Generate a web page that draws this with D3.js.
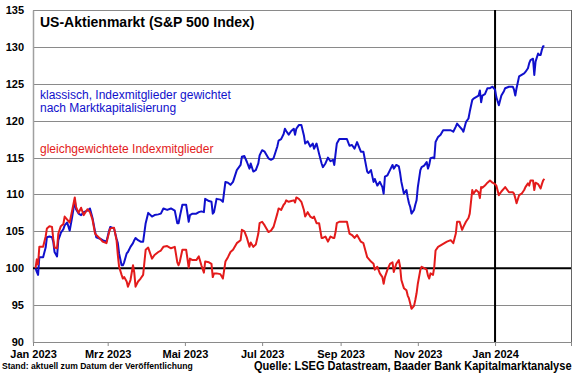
<!DOCTYPE html>
<html>
<head>
<meta charset="utf-8">
<script src="https://cdn.jsdelivr.net/npm/d3@7"></script>
<style>
  body { margin: 0; background: #fff; }
  svg { display: block; font-family: Arial, "Liberation Sans", sans-serif; }
</style>
</head>
<body>
<div id="chart"></div>
<script>
// S&P 500 (market-cap weighted) vs. equal weighted, indexed to 100 at start of 2023
const dates = [
  "2023-01-03","2023-01-04","2023-01-05","2023-01-06","2023-01-09","2023-01-11","2023-01-12","2023-01-14","2023-01-16","2023-01-17","2023-01-18","2023-01-20","2023-01-21","2023-01-23","2023-01-25","2023-01-26","2023-01-28","2023-01-30",
  "2023-02-01","2023-02-03","2023-02-04","2023-02-06","2023-02-08","2023-02-10","2023-02-13","2023-02-15","2023-02-17","2023-02-19","2023-02-20","2023-02-23","2023-02-25","2023-02-28",
  "2023-03-02","2023-03-03","2023-03-06","2023-03-08","2023-03-09","2023-03-10","2023-03-12","2023-03-13","2023-03-14","2023-03-16","2023-03-17","2023-03-19","2023-03-21","2023-03-22","2023-03-23","2023-03-25","2023-03-27","2023-03-29","2023-03-31",
  "2023-04-02","2023-04-05","2023-04-07","2023-04-10","2023-04-12","2023-04-14","2023-04-17","2023-04-20","2023-04-23","2023-04-25","2023-04-26","2023-04-27","2023-04-29",
  "2023-05-02","2023-05-04","2023-05-05","2023-05-07","2023-05-10","2023-05-12","2023-05-14","2023-05-16","2023-05-17","2023-05-20","2023-05-22","2023-05-23","2023-05-24","2023-05-26","2023-05-29","2023-05-31",
  "2023-06-02","2023-06-04","2023-06-06","2023-06-08","2023-06-11","2023-06-14","2023-06-15","2023-06-17","2023-06-19","2023-06-21","2023-06-22","2023-06-24","2023-06-26","2023-06-28","2023-06-29",
  "2023-07-01","2023-07-03","2023-07-06","2023-07-08","2023-07-10","2023-07-13","2023-07-14","2023-07-16","2023-07-18","2023-07-19","2023-07-20","2023-07-22","2023-07-24","2023-07-26","2023-07-27","2023-07-28","2023-07-30",
  "2023-08-01","2023-08-03","2023-08-04","2023-08-06","2023-08-08","2023-08-10","2023-08-11","2023-08-13","2023-08-15","2023-08-17","2023-08-18","2023-08-20","2023-08-22","2023-08-24","2023-08-26","2023-08-27","2023-08-28","2023-08-29","2023-08-31",
  "2023-09-03","2023-09-06","2023-09-08","2023-09-10","2023-09-12","2023-09-14","2023-09-17","2023-09-19","2023-09-22","2023-09-23","2023-09-25","2023-09-27","2023-09-28","2023-09-30",
  "2023-10-02","2023-10-04","2023-10-05","2023-10-06","2023-10-08","2023-10-10","2023-10-12","2023-10-13","2023-10-15","2023-10-17","2023-10-18","2023-10-19","2023-10-21","2023-10-23","2023-10-24","2023-10-25","2023-10-26","2023-10-27","2023-10-29","2023-10-30","2023-10-31",
  "2023-11-01","2023-11-03","2023-11-04","2023-11-06","2023-11-08","2023-11-09","2023-11-10","2023-11-11","2023-11-13","2023-11-14","2023-11-15","2023-11-17","2023-11-19","2023-11-21","2023-11-24","2023-11-27","2023-11-29",
  "2023-12-01","2023-12-02","2023-12-04","2023-12-06","2023-12-07","2023-12-09","2023-12-11","2023-12-12","2023-12-14","2023-12-15","2023-12-17","2023-12-19","2023-12-20","2023-12-21","2023-12-22","2023-12-24","2023-12-26","2023-12-28","2023-12-30",
  "2024-01-01","2024-01-02","2024-01-04","2024-01-06","2024-01-08","2024-01-09","2024-01-12","2024-01-15","2024-01-16","2024-01-17","2024-01-18","2024-01-20","2024-01-22","2024-01-24","2024-01-25","2024-01-27","2024-01-28","2024-01-29","2024-01-31",
  "2024-02-01","2024-02-02","2024-02-04","2024-02-05","2024-02-06","2024-02-07","2024-02-08","2024-02-09"
];

const capWeighted = [
  100.0,99.5,99.1,101.5,101.5,102.8,104.2,104.3,104.2,103.6,102.2,101.6,103.8,104.8,105.3,105.8,106.2,105.1,
  107.0,109.2,108.0,107.4,107.2,107.6,107.8,108.1,106.8,105.0,104.2,104.0,103.8,103.6,
  105.0,105.6,105.4,104.0,103.4,102.0,100.4,100.4,100.8,102.0,102.2,102.9,103.4,103.8,104.1,103.8,103.6,103.6,106.1,
  107.5,107.0,107.2,107.3,107.4,108.1,107.9,108.1,107.8,106.1,106.1,107.0,108.6,
  108.6,106.3,107.2,107.4,107.4,107.6,107.7,107.6,109.4,109.1,109.0,107.4,107.6,109.4,109.3,109.0,
  111.7,111.6,111.3,111.7,113.3,114.0,115.1,115.2,114.4,113.5,114.2,113.1,113.3,114.2,115.3,
  116.0,115.8,114.9,114.7,114.9,116.5,117.3,117.5,118.2,118.9,118.6,118.1,118.6,118.9,118.1,118.9,119.4,
  119.4,118.0,116.9,117.2,116.5,116.9,116.2,116.9,115.5,114.2,113.7,114.2,115.0,114.5,114.7,114.0,115.5,116.9,117.5,
  117.5,117.5,116.6,116.7,116.2,117.1,115.8,115.8,113.1,112.9,113.3,111.7,112.1,111.2,
  111.7,111.0,110.1,112.4,112.6,113.3,114.0,113.5,114.0,113.8,112.9,111.7,110.1,110.6,109.6,108.8,108.3,107.4,107.9,108.6,109.2,
  111.0,113.3,113.7,113.9,114.4,113.5,114.0,114.9,115.0,114.9,117.1,117.8,118.1,118.7,118.7,118.7,118.5,
  119.2,119.6,119.2,118.8,118.5,119.8,120.3,121.2,122.8,123.0,123.2,123.4,124.1,122.5,123.4,123.6,124.4,124.4,124.6,
  124.2,123.2,122.1,123.4,124.0,124.4,124.6,124.6,124.2,123.4,124.4,126.0,126.2,126.4,126.6,127.1,127.8,128.2,128.4,
  126.2,128.0,129.1,128.9,128.9,129.6,130.1,130.1
];

const equalWeighted = [
  100.0,101.2,100.5,102.9,102.9,104.3,105.4,105.7,105.6,104.0,102.8,102.7,104.7,105.7,106.0,107.0,106.6,106.2,
  107.9,109.6,108.3,107.5,108.2,107.2,108.0,107.6,106.6,104.7,104.5,104.0,103.6,103.4,
  104.8,105.4,105.5,103.8,101.8,100.2,99.1,98.6,98.8,98.2,97.5,98.4,100.4,99.4,97.5,98.2,98.6,99.1,102.5,
  102.8,101.3,101.8,102.2,102.4,102.9,103.0,102.7,102.9,100.8,100.4,100.9,102.5,
  102.5,100.1,101.3,101.1,101.1,101.6,100.4,99.4,100.9,100.8,100.6,98.8,99.3,99.3,99.2,98.6,
  100.9,101.5,102.2,102.5,103.4,103.8,105.2,105.0,104.1,102.9,103.5,102.9,103.2,104.7,106.1,
  106.3,105.8,104.9,105.1,105.6,107.4,108.1,107.9,108.6,108.8,109.2,109.0,109.1,109.2,108.9,109.6,109.4,
  109.0,107.9,107.0,107.6,107.0,106.8,107.0,106.1,106.1,104.1,104.1,104.3,103.6,104.3,104.1,104.1,104.9,106.1,106.3,
  106.3,106.3,104.7,104.5,104.1,104.5,103.6,103.4,101.5,101.3,100.9,100.6,99.8,100.2,
  99.3,98.8,97.9,98.8,99.8,100.6,100.8,99.5,100.6,101.1,100.2,98.4,97.3,97.0,96.3,95.9,95.2,94.5,94.9,95.7,96.6,
  97.9,99.8,100.2,100.0,99.8,99.0,98.6,99.3,99.1,100.2,102.4,102.9,103.1,103.3,103.6,103.8,103.4,
  104.7,106.3,106.3,105.2,105.6,106.3,106.8,107.4,110.6,110.1,110.6,110.3,109.5,111.0,110.9,111.2,111.6,111.9,111.6,
  111.4,111.2,109.9,110.4,110.8,111.0,110.3,110.3,110.1,109.5,108.8,109.9,110.1,110.6,111.0,111.5,111.2,111.9,111.9,
  110.6,111.6,111.4,111.1,110.8,111.4,111.9,112.1
];

const yTicks = [90, 95, 100, 105, 110, 115, 120, 125, 130, 135];
const xTickDates = ["2023-01-01","2023-03-01","2023-05-01","2023-07-01","2023-09-01","2023-11-01","2024-01-01","2024-03-01"];
const xTickLabels = ["Jan 2023","Mrz 2023","Mai 2023","Jul 2023","Sep 2023","Nov 2023","Jan 2024",""];

const width = 580;
const height = 375;
const marginTop = 10;
const marginRight = 9;
const marginBottom = 33;
const marginLeft = 33;

const parse = d3.utcParse("%Y-%m-%d");
const blueColor = "#1010cc";
const redColor = "#e31b1b";

const x = d3.scaleUtc()
  .domain([parse("2023-01-01"), parse("2024-03-01")])
  .range([marginLeft, width - marginRight]);

const y = d3.scaleLinear()
  .domain([90, 135])
  .range([height - marginBottom, marginTop]);

const svg = d3.create("svg")
  .attr("width", width)
  .attr("height", height)
  .attr("viewBox", [0, 0, width, height]);

document.getElementById("chart").appendChild(svg.node());

svg.append("rect").attr("width", width).attr("height", height).attr("fill", "#fff");

// horizontal grid
svg.append("g")
  .attr("stroke", "#8a8a8a")
  .attr("stroke-width", 1)
  .selectAll("line")
  .data(yTicks)
  .join("line")
    .attr("x1", marginLeft)
    .attr("x2", width - marginRight)
    .attr("y1", d => Math.round(y(d)) + 0.5)
    .attr("y2", d => Math.round(y(d)) + 0.5);

// right border
svg.append("line")
  .attr("x1", width - marginRight + 0.5).attr("x2", width - marginRight + 0.5)
  .attr("y1", marginTop).attr("y2", height - marginBottom)
  .attr("stroke", "#666");

// y axis
const yAxis = svg.append("g")
  .attr("transform", `translate(${marginLeft},0)`)
  .call(d3.axisLeft(y).tickValues(yTicks).tickSize(0).tickPadding(9));
yAxis.select(".domain").attr("stroke", "#a0a0a0").attr("stroke-width", 1.5);
yAxis.selectAll("text")
  .attr("font-family", "Arial, 'Liberation Sans', sans-serif")
  .attr("font-size", 11)
  .attr("font-weight", "bold")
  .attr("fill", "#000");

// x axis
const xAxis = svg.append("g")
  .attr("transform", `translate(0,${height - marginBottom})`)
  .call(d3.axisBottom(x)
    .tickValues(xTickDates.map(parse))
    .tickFormat((d, i) => xTickLabels[i])
    .tickSize(4)
    .tickSizeOuter(0)
    .tickPadding(4));
xAxis.select(".domain").attr("stroke", "#8a8a8a");
xAxis.selectAll(".tick line").attr("stroke", "#8a8a8a");
xAxis.selectAll("text")
  .attr("font-family", "Arial, 'Liberation Sans', sans-serif")
  .attr("font-size", 11)
  .attr("font-weight", "bold")
  .attr("fill", "#000");

// reference lines: 100 and start of 2024
svg.append("line")
  .attr("x1", marginLeft).attr("x2", width - marginRight)
  .attr("y1", y(100)).attr("y2", y(100))
  .attr("stroke", "#000").attr("stroke-width", 2);

svg.append("line")
  .attr("x1", x(parse("2024-01-01"))).attr("x2", x(parse("2024-01-01")))
  .attr("y1", marginTop).attr("y2", height - marginBottom)
  .attr("stroke", "#000").attr("stroke-width", 2);

// series
const line = d3.line()
  .x((d, i) => x(parse(dates[i])))
  .y(d => y(d));

svg.append("path")
  .datum(capWeighted)
  .attr("fill", "none")
  .attr("stroke", blueColor)
  .attr("stroke-width", 2)
  .attr("stroke-linejoin", "round")
  .attr("d", line);

svg.append("path")
  .datum(equalWeighted)
  .attr("fill", "none")
  .attr("stroke", redColor)
  .attr("stroke-width", 2)
  .attr("stroke-linejoin", "round")
  .attr("d", line);

// titles and labels
svg.append("text")
  .attr("x", 40).attr("y", 27)
  .attr("font-size", 14).attr("font-weight", "bold")
  .text("US-Aktienmarkt (S&P 500 Index)");

svg.append("text")
  .attr("x", 40).attr("y", 99)
  .attr("font-size", 12).attr("fill", blueColor)
  .text("klassisch, Indexmitglieder gewichtet");

svg.append("text")
  .attr("x", 40).attr("y", 112)
  .attr("font-size", 12).attr("fill", blueColor)
  .text("nach Marktkapitalisierung");

svg.append("text")
  .attr("x", 40).attr("y", 153)
  .attr("font-size", 12).attr("fill", redColor)
  .text("gleichgewichtete Indexmitglieder");

// footer: narrow look by squeezing horizontally to the reference widths
function footerText(str, x0, y0, size, targetWidth) {
  const t = svg.append("text")
    .attr("font-size", size).attr("font-weight", "bold")
    .text(str);
  const w = t.node().getComputedTextLength();
  t.attr("transform", `translate(${x0},${y0}) scale(${targetWidth / w},1)`);
}

footerText("Stand: aktuell zum Datum der Veröffentlichung", 2, 369, 8.5, 191);
footerText("Quelle: LSEG Datastream, Baader Bank Kapitalmarktanalyse", 254, 370, 12, 318);
</script>
</body>
</html>
